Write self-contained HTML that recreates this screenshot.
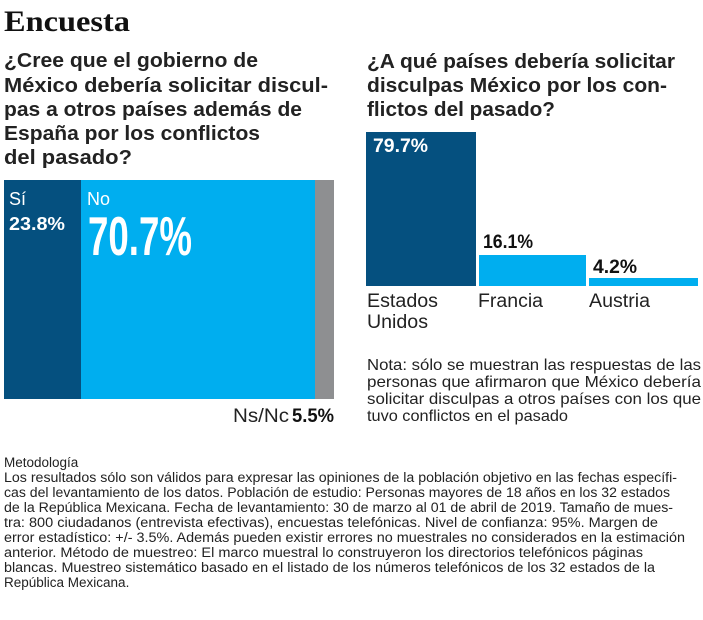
<!DOCTYPE html>
<html><head><meta charset="utf-8"><style>
html,body{margin:0;padding:0;background:#fff;}
svg{display:block;}
text{font-family:"Liberation Sans",sans-serif;fill:#1a1a1a;}
.q{font-size:20px;font-weight:bold;fill:#222;}
.m{font-size:13.5px;fill:#222;}
.n{font-size:16px;fill:#222;}
.lab{font-size:19px;fill:#222;}
</style></head><body>
<svg width="703" height="620" viewBox="0 0 703 620" xmlns="http://www.w3.org/2000/svg">
<rect x="0" y="0" width="703" height="620" fill="#fff"/>
<text x="4" y="31" style="font-family:'Liberation Serif',serif;font-size:30px;font-weight:bold;fill:#111" textLength="126" lengthAdjust="spacingAndGlyphs">Encuesta</text>

<text class="q" x="4" y="67" textLength="254" lengthAdjust="spacingAndGlyphs">¿Cree que el gobierno de</text>
<text class="q" x="4" y="92" textLength="324" lengthAdjust="spacingAndGlyphs">México debería solicitar  discul-</text>
<text class="q" x="4" y="116" textLength="298" lengthAdjust="spacingAndGlyphs">pas a otros países además de</text>
<text class="q" x="4" y="140" textLength="256" lengthAdjust="spacingAndGlyphs">España por los conflictos</text>
<text class="q" x="4" y="164" textLength="128" lengthAdjust="spacingAndGlyphs">del pasado?</text>

<!-- left stacked bar -->
<rect x="4" y="180" width="77" height="219" fill="#05507f"/>
<rect x="81" y="180" width="234" height="219" fill="#00aeef"/>
<rect x="315" y="180" width="19" height="219" fill="#8e8f91"/>
<text x="9" y="205" style="font-size:18px;fill:#fff">Sí</text>
<text x="9" y="230" style="font-size:18px;font-weight:bold;fill:#fff" textLength="56" lengthAdjust="spacingAndGlyphs">23.8%</text>
<text x="87" y="205" style="font-size:18px;fill:#fff">No</text>
<text x="88" y="255" style="font-size:55px;font-weight:bold;fill:#fff" textLength="104" lengthAdjust="spacingAndGlyphs">70.7%</text>
<text x="233" y="422" style="font-size:19px;fill:#222" textLength="56" lengthAdjust="spacingAndGlyphs">Ns/Nc</text>
<text x="292" y="422" style="font-size:19px;font-weight:bold;fill:#111" textLength="42" lengthAdjust="spacingAndGlyphs">5.5%</text>

<!-- right question -->
<text class="q" x="367" y="68" textLength="308" lengthAdjust="spacingAndGlyphs">¿A qué países debería solicitar</text>
<text class="q" x="367" y="92" textLength="300" lengthAdjust="spacingAndGlyphs">disculpas México por los con-</text>
<text class="q" x="367" y="116" textLength="188" lengthAdjust="spacingAndGlyphs">flictos del pasado?</text>

<rect x="366" y="132" width="110" height="154" fill="#05507f"/>
<rect x="479" y="255" width="107" height="31" fill="#00aeef"/>
<rect x="589" y="278" width="109" height="8" fill="#00aeef"/>
<text x="373" y="152" style="font-size:19px;font-weight:bold;fill:#fff" textLength="55" lengthAdjust="spacingAndGlyphs">79.7%</text>
<text x="483" y="248" style="font-size:19px;font-weight:bold;fill:#111" textLength="50" lengthAdjust="spacingAndGlyphs">16.1%</text>
<text x="593" y="273" style="font-size:19px;font-weight:bold;fill:#111" textLength="44" lengthAdjust="spacingAndGlyphs">4.2%</text>

<text class="lab" x="367" y="307" textLength="71" lengthAdjust="spacingAndGlyphs">Estados</text>
<text class="lab" x="367" y="328" textLength="61" lengthAdjust="spacingAndGlyphs">Unidos</text>
<text class="lab" x="478" y="307" textLength="65" lengthAdjust="spacingAndGlyphs">Francia</text>
<text class="lab" x="589" y="307" textLength="61" lengthAdjust="spacingAndGlyphs">Austria</text>

<text class="n" x="367" y="370" textLength="334" lengthAdjust="spacingAndGlyphs">Nota: sólo se muestran las respuestas de las</text>
<text class="n" x="367" y="387" textLength="334" lengthAdjust="spacingAndGlyphs">personas que afirmaron que México debería</text>
<text class="n" x="367" y="404" textLength="334" lengthAdjust="spacingAndGlyphs">solicitar  disculpas a otros países con los que</text>
<text class="n" x="367" y="421" textLength="201" lengthAdjust="spacingAndGlyphs">tuvo conflictos en el pasado</text>

<!-- methodology -->
<text class="m" x="4" y="467">Metodología</text>
<text class="m" x="4" y="482" textLength="673" lengthAdjust="spacingAndGlyphs">Los resultados sólo son válidos para expresar las opiniones de la población objetivo en las fechas específi-</text>
<text class="m" x="4" y="497" textLength="666" lengthAdjust="spacingAndGlyphs">cas del levantamiento de los datos. Población de estudio: Personas mayores de 18 años en los 32 estados</text>
<text class="m" x="4" y="512" textLength="669" lengthAdjust="spacingAndGlyphs">de la República Mexicana. Fecha de levantamiento: 30 de marzo al 01 de abril de 2019. Tamaño de mues-</text>
<text class="m" x="4" y="527" textLength="654" lengthAdjust="spacingAndGlyphs">tra: 800 ciudadanos (entrevista efectivas), encuestas telefónicas.  Nivel de confianza: 95%. Margen de</text>
<text class="m" x="4" y="542" textLength="681" lengthAdjust="spacingAndGlyphs">error estadístico: +/- 3.5%. Además pueden existir errores no muestrales no considerados en la estimación</text>
<text class="m" x="4" y="557" textLength="639" lengthAdjust="spacingAndGlyphs">anterior. Método de muestreo: El marco muestral lo construyeron los directorios telefónicos páginas</text>
<text class="m" x="4" y="572" textLength="651" lengthAdjust="spacingAndGlyphs">blancas. Muestreo sistemático basado en el listado de los números telefónicos de los 32 estados de la</text>
<text class="m" x="4" y="587">República Mexicana.</text>
</svg>
</body></html>
